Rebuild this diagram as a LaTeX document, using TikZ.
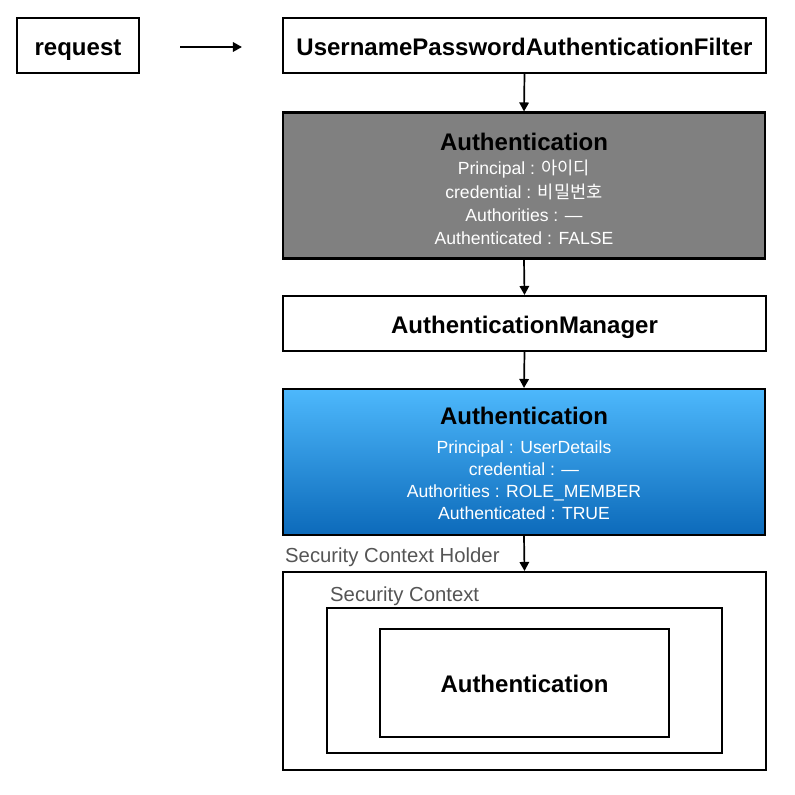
\documentclass[tikz,border=0pt]{standalone}
\usepackage{fontspec}
\setmainfont{Liberation Sans}
\newfontfamily\krfont{Noto Sans CJK KR}
\usetikzlibrary{arrows.meta}
\definecolor{boxgray}{RGB}{128,128,128}
\definecolor{bluetop}{RGB}{77,184,252}
\definecolor{bluebot}{RGB}{12,106,186}
\definecolor{lblgray}{RGB}{85,85,85}
\begin{document}
\begin{tikzpicture}[x=1pt,y=-1pt,
  box/.style={draw=black, line width=2.1pt, fill=white, inner sep=0pt},
  boxtext/.style={font=\bfseries\fontsize{24}{28}\selectfont, text height=19pt, text depth=0pt},
  titletext/.style={font=\bfseries\fontsize{24}{28}\selectfont, text=black, inner sep=0pt},
  subtext/.style={text=white, align=center, inner sep=0pt},
  lbl/.style={text=lblgray, font=\fontsize{20.3}{24}\selectfont, anchor=west, inner sep=0pt},
  arr/.style={-{Triangle[length=9pt,width=9.5pt]}, line width=1.7pt, black}]
\useasboundingbox (0,0) rectangle (795,795);
\fill[white] (0,0) rectangle (795,795);

% top row
\node[box, boxtext, minimum width=122pt, minimum height=55pt] (req) at (78,45.5) {request};
\node[box, boxtext, minimum width=483pt, minimum height=55pt] (upaf) at (524.5,45.5) {UsernamePasswordAuthenticationFilter};

% gray authentication
\node[box, fill=boxgray, minimum width=482pt, minimum height=146pt] (gauth) at (524,185.5) {};
\node[titletext] (gtitle) at (524,142) {Authentication};
\node[subtext, font=\fontsize{17.6}{23.3}\selectfont] (glines) at (524,202.5)
  {Principal : {\krfont 아이디}\\credential : {\krfont 비밀번호}\\Authorities : —\\Authenticated : FALSE};

% manager
\node[box, boxtext, minimum width=483pt, minimum height=55pt] (mgr) at (524.5,323.5) {AuthenticationManager};

% blue authentication
\node[box, top color=bluetop, bottom color=bluebot, minimum width=482pt, minimum height=146pt] (bauth) at (524,462) {};
\node[titletext] (btitle) at (524,416) {Authentication};
\node[subtext, font=\fontsize{17.6}{22}\selectfont] (blines) at (524,480.5)
  {Principal : UserDetails\\credential : —\\Authorities : ROLE\_MEMBER\\Authenticated : TRUE};

% security context holder
\node[lbl] (holderlbl) at (285,557) {Security Context Holder};
\node[box, minimum width=483pt, minimum height=198pt] (holder) at (524.5,671) {};
\node[lbl] (ctxlbl) at (330,596) {Security Context};
\node[box, minimum width=395pt, minimum height=145pt] (ctx) at (524.5,680.5) {};
\node[box, boxtext, minimum width=289pt, minimum height=108pt] (inner) at (524.5,683) {Authentication};

% connectors
\draw[arr] ([xshift=40pt,yshift=-1.5pt]req.east) -- ([xshift=-40pt,yshift=-1.5pt]upaf.west);
\draw[arr] (upaf.south) -- (gauth.north);
\draw[arr] (gauth.south) -- (mgr.north);
\draw[arr] (mgr.south) -- (bauth.north);
\draw[arr] (bauth.south) -- (holder.north);
\end{tikzpicture}
\end{document}
